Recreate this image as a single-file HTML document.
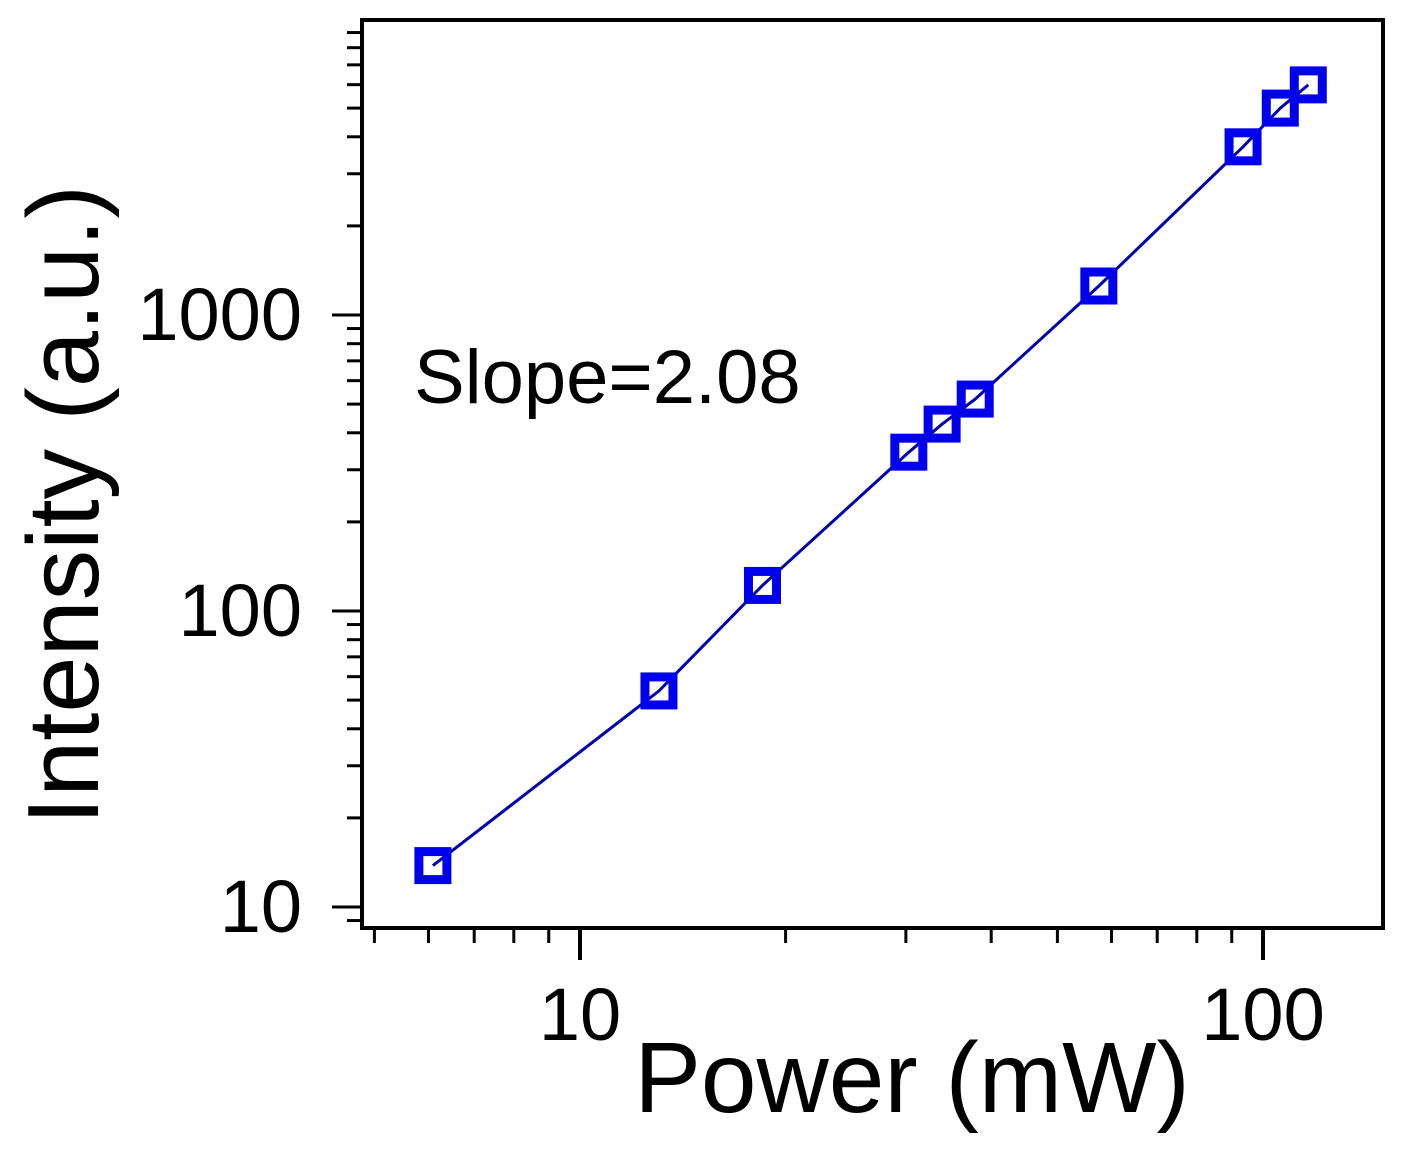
<!DOCTYPE html>
<html><head><meta charset="utf-8"><style>
html,body{margin:0;padding:0;background:#fff;}
svg{display:block;font-family:"Liberation Sans",Arial,sans-serif;}
</style></head><body>
<svg id="chart" width="1402" height="1151" viewBox="0 0 1402 1151" xmlns="http://www.w3.org/2000/svg">
<rect x="0" y="0" width="1402" height="1151" fill="#fff"/>
<g id="axes"></g>
<g id="series"></g>
<text x="414" y="403" font-size="76" fill="#000">Slope=2.08</text>
<text x="912" y="1112" font-size="100" text-anchor="middle" fill="#000">Power (mW)</text>
<text transform="translate(98,505) rotate(-90)" font-size="101" text-anchor="middle" fill="#000">Intensity (a.u.)</text>
</svg>
<script>
const powerMW = [6.09, 13.05, 18.5, 30.3, 33.9, 37.9, 57.5, 93.5, 106, 116.5];
const intensity = [13.8, 53.7, 122, 344, 428, 520, 1253, 3700, 5000, 5990];
const xTickValues = [10, 100];
const xTickLabels = ["10", "100"];
const yTickValues = [10, 100, 1000];
const yTickLabels = ["10", "100", "1000"];

const NS = "http://www.w3.org/2000/svg";
const L = 362, R = 1383, T = 20, B = 928;
const x10 = 580, xDec = 683, y10 = 907, yDec = 296;
function xs(v){ return x10 + (Math.log10(v) - 1) * xDec; }
function ys(v){ return y10 - (Math.log10(v) - 1) * yDec; }
function mk(tag, attrs, parent){
  const e = document.createElementNS(NS, tag);
  for (const k in attrs) e.setAttribute(k, attrs[k]);
  parent.appendChild(e); return e;
}
const axes = document.getElementById('axes');
const frame = mk('rect', {x:L, y:T, width:R-L, height:B-T, fill:'none', stroke:'#000', 'stroke-width':4}, axes);



for (let d = 1; d <= 100; d *= 10) {
  for (let m = 1; m <= 9; m++) {
    const v = d * m, px = xs(v);
    if (px < L + 5 || px > R - 2) continue;
    const major = (m === 1);
    const t = mk('line', {x1:px, x2:px, y1:B, y2:B + (major ? 32 : 15), stroke:'#000', 'stroke-width': major ? 4 : 3}, axes);
    
    
  }
}
for (let d = 1; d <= 1000; d *= 10) {
  for (let m = 1; m <= 9; m++) {
    const v = d * m, py = ys(v);
    if (py > B - 2 || py < T + 5) continue;
    const major = (m === 1);
    const t = mk('line', {x1:L, x2:L - (major ? 30 : 15), y1:py, y2:py, stroke:'#000', 'stroke-width': 3}, axes);
    
    
  }
}
xTickValues.forEach((v, i) => {
  const t = mk('text', {x:xs(v), y:1040, 'font-size':74, 'text-anchor':'middle', fill:'#000'}, axes);
  t.textContent = xTickLabels[i];
  
  
});
yTickValues.forEach((v, i) => {
  const t = mk('text', {x:302, y:ys(v) + 25, 'font-size':74, 'text-anchor':'end', fill:'#000'}, axes);
  t.textContent = yTickLabels[i];
  
  
});

const series = document.getElementById('series');
const pts = powerMW.map((p, i) => xs(p) + ',' + ys(intensity[i])).join(' ');
const line = mk('polyline', {points:pts, fill:'none', stroke:'#0000b0', 'stroke-width':3}, series);


powerMW.forEach((p, i) => {
  const s = 28;
  const r = mk('rect', {x:xs(p) - s/2, y:ys(intensity[i]) - s/2, width:s, height:s, fill:'none', stroke:'#0000ee', 'stroke-width':9}, series);
  
  
});
</script>
</body></html>
